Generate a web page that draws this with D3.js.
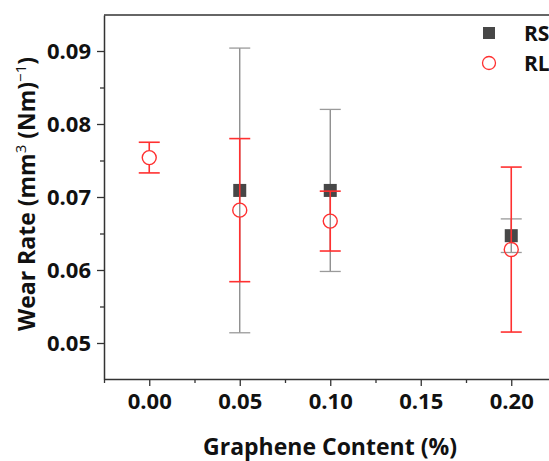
<!DOCTYPE html>
<html><head><meta charset="utf-8">
<script src="https://cdn.jsdelivr.net/npm/d3@7"></script>
<style>
html,body{margin:0;padding:0;background:#fff;}
svg{display:block;font-family:"Open Sans","Noto Sans",sans-serif;}
</style></head>
<body><svg id="c" width="549" height="461"></svg>
<script>
// ---- data ----
const content = [0.00, 0.05, 0.10, 0.20];
const rsValues = [null, 0.0709, 0.0709, 0.0647];
const rsErrors = [null, 0.0195, 0.0111, 0.0023];
const rlValues = [0.0754, 0.0682, 0.0667, 0.0628];
const rlErrors = [0.0021, 0.0098, 0.0041, 0.0113];
const xTicks = [0.00, 0.05, 0.10, 0.15, 0.20];
const xMinor = [-0.025, 0.025, 0.075, 0.125, 0.175];
const yTicks = [0.05, 0.06, 0.07, 0.08, 0.09];
const yMinor = [0.055, 0.065, 0.075, 0.085];
const seriesNames = ["RS", "RL"];

const svg = d3.select("#c");
const x = d3.scaleLinear().domain([-0.025, 0.225]).range([104, 556.5]);
const y = d3.scaleLinear().domain([0.045068, 0.094932]).range([379, 15]);

const axisColor = "#333";
// frame top line
svg.append("line").attr("x1", 104).attr("x2", 549).attr("y1", 15).attr("y2", 15)
  .attr("stroke", axisColor).attr("stroke-width", 1.5);

// bottom axis
const gx = svg.append("g").attr("transform", "translate(0,379)")
  .call(d3.axisBottom(x).tickValues(xTicks).tickFormat(d3.format(".2f")).tickSize(7).tickSizeOuter(0));
svg.append("g").attr("transform", "translate(0,379)")
  .call(d3.axisBottom(x).tickValues(xMinor).tickFormat("").tickSize(4).tickSizeOuter(0))
  .select(".domain").remove();
// left axis
const gy = svg.append("g").attr("transform", "translate(104,0)")
  .call(d3.axisLeft(y).tickValues(yTicks).tickFormat(d3.format(".2f")).tickSize(7).tickSizeOuter(0));
svg.append("g").attr("transform", "translate(104,0)")
  .call(d3.axisLeft(y).tickValues(yMinor).tickFormat("").tickSize(4).tickSizeOuter(0))
  .select(".domain").remove();

svg.selectAll(".domain").attr("stroke", axisColor).attr("stroke-width", 1.5);
svg.selectAll(".tick line").attr("stroke", axisColor).attr("stroke-width", 1.3);
gx.selectAll(".tick text").attr("font-size", 22).attr("font-weight", 700).attr("fill", "#111")
  .attr("font-family", "Open Sans").attr("dy", "0").attr("y", 30);
gy.selectAll(".tick text").attr("font-size", 22).attr("font-weight", 700).attr("fill", "#111")
  .attr("font-family", "Open Sans").attr("x", -13).attr("dy", "0.36em");

// axis titles
svg.append("text").attr("x", 330).attr("y", 455).attr("text-anchor", "middle")
  .attr("font-size", 23).attr("font-weight", 700).attr("fill", "#111").text("Graphene Content (%)");
const yt = svg.append("text").attr("transform", "translate(35,194) rotate(-90)")
  .attr("text-anchor", "middle").attr("font-size", 23).attr("font-weight", 700).attr("fill", "#111");
yt.append("tspan").text("Wear Rate (mm");
yt.append("tspan").attr("font-size", 15).attr("font-weight", 400).attr("dy", -9).text("3");
yt.append("tspan").attr("dy", 9).text(" (Nm)");
yt.append("tspan").attr("font-size", 15).attr("font-weight", 400).attr("dy", -9).text("\u22121");
yt.append("tspan").attr("dy", 9).text(")");

const capW = 10.5, sq = 13, r = 7;
const red = "#ff3030", gray = "#858585", grayCap = "#9a9a9a", dark = "#474747";

const rs = content.map((c, i) => ({c, v: rsValues[i], e: rsErrors[i]})).filter(d => d.v != null);
const rl = content.map((c, i) => ({c, v: rlValues[i], e: rlErrors[i]}));

// RS error bars + symbols
const gRS = svg.append("g");
rs.forEach(d => {
  const cx = x(d.c);
  gRS.append("line").attr("x1", cx).attr("x2", cx).attr("y1", y(d.v + d.e)).attr("y2", y(d.v - d.e))
    .attr("stroke", gray).attr("stroke-width", 1.3);
  [d.v + d.e, d.v - d.e].forEach(vv => gRS.append("line").attr("x1", cx - capW).attr("x2", cx + capW)
    .attr("y1", y(vv)).attr("y2", y(vv)).attr("stroke", grayCap).attr("stroke-width", 1.3));
});
gRS.selectAll("rect").data(rs).join("rect")
  .attr("x", d => x(d.c) - sq / 2).attr("y", d => y(d.v) - sq / 2)
  .attr("width", sq).attr("height", sq).attr("fill", dark);

// RL error bars (not drawn inside the symbol)
const gRL = svg.append("g");
rl.forEach(d => {
  const cx = x(d.c), cy = y(d.v);
  gRL.append("line").attr("x1", cx).attr("x2", cx).attr("y1", y(d.v + d.e)).attr("y2", cy - r)
    .attr("stroke", red).attr("stroke-width", 1.6);
  gRL.append("line").attr("x1", cx).attr("x2", cx).attr("y1", cy + r).attr("y2", y(d.v - d.e))
    .attr("stroke", red).attr("stroke-width", 1.6);
  [d.v + d.e, d.v - d.e].forEach(vv => gRL.append("line").attr("x1", cx - capW).attr("x2", cx + capW)
    .attr("y1", y(vv)).attr("y2", y(vv)).attr("stroke", red).attr("stroke-width", 1.6));
});
gRL.selectAll("circle").data(rl).join("circle")
  .attr("cx", d => x(d.c)).attr("cy", d => y(d.v)).attr("r", r)
  .attr("fill", "none").attr("stroke", red).attr("stroke-width", 1.4);

// legend
const lg = svg.append("g");
lg.append("rect").attr("x", 483).attr("y", 27).attr("width", 12).attr("height", 12).attr("fill", dark);
lg.append("circle").attr("cx", 489).attr("cy", 63).attr("r", 6.5).attr("fill", "none")
  .attr("stroke", red).attr("stroke-width", 1.3);
lg.selectAll("text").data(seriesNames).join("text")
  .attr("x", 524).attr("y", (d, i) => 33 + i * 30).attr("dy", "0.36em")
  .attr("font-size", 21).attr("font-weight", 700).attr("fill", "#111").text(d => d);
</script></body></html>
